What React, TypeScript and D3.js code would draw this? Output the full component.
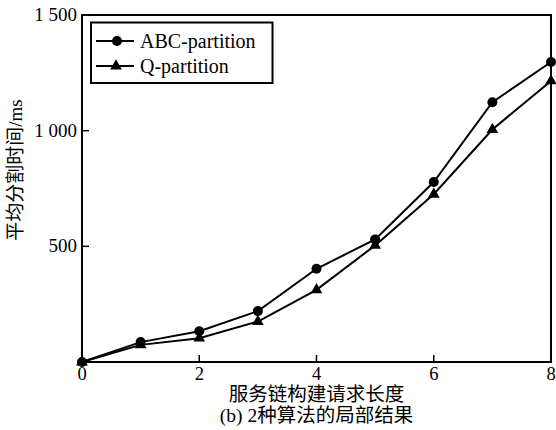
import React from "react";
import * as d3 from "d3";

const xValues = [0, 1, 2, 3, 4, 5, 6, 7, 8];
const abcValues = [0, 86, 133, 220, 403, 530, 778, 1123, 1297];
const qValues = [0, 74, 103, 175, 312, 504, 725, 1005, 1215];
const xTicks = [0, 2, 4, 6, 8];
const yTicks = [500, 1000, 1500];
const yTickLabels = ["500", "1 000", "1 500"];
const seriesNames = ["ABC-partition", "Q-partition"];
const xTitle = "服务链构建请求长度";
const yTitle = "平均分割时间/ms";
const caption = "(b) 2种算法的局部结果";

const W = 556, H = 430;
const M = { left: 82, right: 551, top: 15, bottom: 362 };
const FONT = "'Liberation Serif', 'Times New Roman', 'Noto Sans CJK SC', serif";

export default function App() {
  const x = d3.scaleLinear().domain([0, 8]).range([M.left, M.right]);
  const y = d3.scaleLinear().domain([0, 1500]).range([M.bottom, M.top]);
  const line = d3.line<number>().x((_, i) => x(xValues[i])).y((d) => y(d));
  const tri = d3.symbol().type(d3.symbolTriangle).size(60)();
  const circ = (cx: number, cy: number, k: string) => <circle key={k} cx={cx} cy={cy} r={5} fill="#000" />;
  const triM = (cx: number, cy: number, k: string) => (
    <path key={k} d={tri as string} transform={`translate(${cx},${cy})`} fill="#000" />
  );
  return (
    <div style={{ position: "fixed", left: 0, top: 0, width: W, height: H, background: "#fff" }}>
      <svg width={W} height={H} style={{ display: "block" }} fontFamily={FONT}>
        <rect x={0} y={0} width={W} height={H} fill="#fff" />
        {/* frame */}
        <rect x={M.left} y={M.top} width={M.right - M.left} height={M.bottom - M.top} fill="none" stroke="#000" strokeWidth={2} />
        {/* x ticks */}
        {xTicks.map((t) => (
          <g key={"xt" + t}>
            <line x1={x(t)} x2={x(t)} y1={M.bottom} y2={M.bottom - 7} stroke="#000" strokeWidth={1.5} />
            <text x={x(t)} y={M.bottom + 18} fontSize={18.5} textAnchor="middle">{t}</text>
          </g>
        ))}
        {/* y ticks */}
        {yTicks.map((t, i) => (
          <g key={"yt" + t}>
            <line x1={M.left} x2={M.left + 7} y1={y(t)} y2={y(t)} stroke="#000" strokeWidth={1.5} />
            <text x={M.left - 5} y={y(t) + 6} fontSize={19} textAnchor="end">{yTickLabels[i]}</text>
          </g>
        ))}
        {/* lines */}
        <path d={line(abcValues) as string} fill="none" stroke="#000" strokeWidth={2} />
        <path d={line(qValues) as string} fill="none" stroke="#000" strokeWidth={2} />
        {abcValues.map((v, i) => circ(x(xValues[i]), y(v), "c" + i))}
        {qValues.map((v, i) => triM(x(xValues[i]), y(v), "t" + i))}
        {/* legend */}
        <rect x={91} y={22.5} width={181.5} height={60.5} fill="#fff" stroke="#000" strokeWidth={2} />
        <line x1={96} x2={134} y1={41} y2={41} stroke="#000" strokeWidth={2} />
        {circ(117, 41, "lc")}
        <text x={140} y={48} fontSize={20}>{seriesNames[0]}</text>
        <line x1={96} x2={134} y1={66} y2={66} stroke="#000" strokeWidth={2} />
        {triM(116, 66, "lt")}
        <text x={140} y={73} fontSize={20}>{seriesNames[1]}</text>
        {/* titles */}
        <text x={(M.left + M.right) / 2} y={401} fontSize={19.5} textAnchor="middle">{xTitle}</text>
        <text x={(M.left + M.right) / 2} y={422} fontSize={19.5} textAnchor="middle">{caption}</text>
        <text transform={`translate(22,170) rotate(-90)`} fontSize={19} textAnchor="middle">{yTitle}</text>
      </svg>
    </div>
  );
}
